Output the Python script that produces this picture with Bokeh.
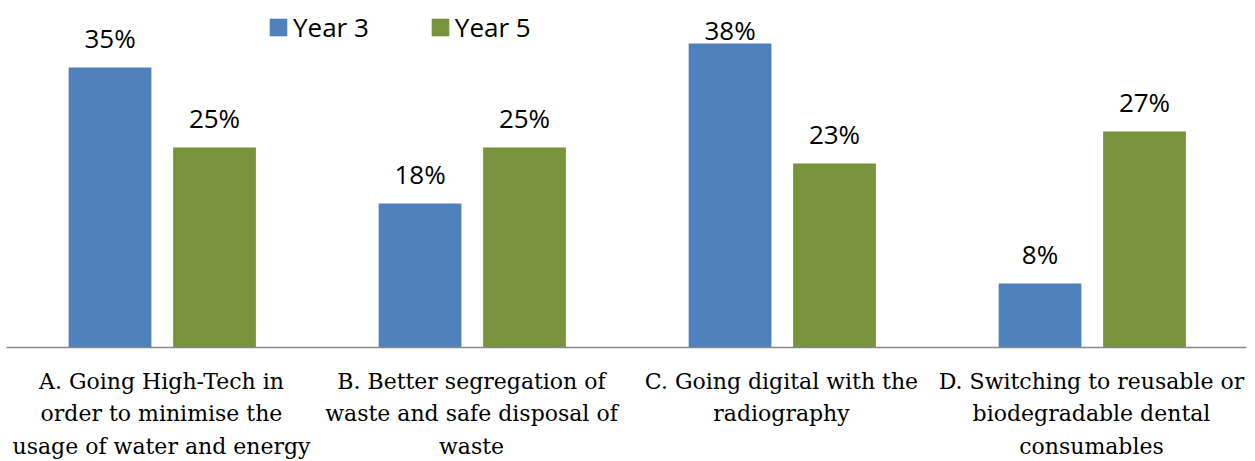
from bokeh.plotting import figure
from bokeh.models import FactorRange, ColumnDataSource, LabelSet, Legend, LegendItem
from bokeh.transform import dodge
from bokeh.core.properties import value
from bokeh.embed import file_html
from bokeh.resources import INLINE

categories = [
    "A. Going High-Tech in\norder to minimise the\nusage of water and energy",
    "B. Better segregation of\nwaste and safe disposal of\nwaste",
    "C. Going digital with the\nradiography",
    "D. Switching to reusable or\nbiodegradable dental\nconsumables",
]
year3 = [35, 18, 38, 8]
year5 = [25, 25, 23, 27]
series_names = ["Year 3", "Year 5"]

y_max = 42.36


def label_offsets(vals):
    # labels near the top of the frame sit closer to their bar
    return [3 if v > 36 else 19 for v in vals]


src = ColumnDataSource(dict(
    cat=categories,
    y3=year3,
    y5=year5,
    l3=[f"{v}%" for v in year3],
    l5=[f"{v}%" for v in year5],
    o3=label_offsets(year3),
    o5=label_offsets(year5),
))

p = figure(x_range=FactorRange(*categories), y_range=(0, y_max),
           width=1248, height=461, output_backend="svg", toolbar_location=None,
           min_border_left=6, min_border_right=2, min_border_top=8, min_border_bottom=0)
p.outline_line_color = None
p.grid.grid_line_color = None
p.yaxis.visible = False

blue = "#4F81BD"
green = "#77933C"
r3 = p.vbar(x=dodge("cat", -0.166, range=p.x_range), top="y3", width=0.267,
            source=src, fill_color=blue, line_color=None)
r5 = p.vbar(x=dodge("cat", 0.171, range=p.x_range), top="y5", width=0.267,
            source=src, fill_color=green, line_color=None)

for col, off, ycol, ocol in (("l3", -0.166, "y3", "o3"), ("l5", 0.171, "y5", "o5")):
    p.add_layout(LabelSet(x=dodge("cat", off, range=p.x_range), y=ycol, text=col,
                          source=src, text_align="center", text_baseline="alphabetic",
                          y_offset=ocol, text_font=value("Open Sans"),
                          text_font_size=value("26px"), text_color=value("#000000")))

xa = p.xaxis[0]
xa.major_label_text_font = "DejaVu Serif"
xa.major_label_text_font_size = "22px"
xa.major_label_text_color = "#000000"
xa.major_label_text_line_height = 1.3
xa.major_tick_line_color = None
xa.minor_tick_line_color = None
xa.axis_line_color = "#888888"
xa.axis_line_width = 1.5
xa.major_label_standoff = 15

legend = Legend(items=[LegendItem(label=series_names[0], renderers=[r3]),
                       LegendItem(label=series_names[1], renderers=[r5])],
                orientation="horizontal", location=(261, 302),
                label_text_font="Open Sans", label_text_font_size="26px",
                label_text_color="#000000",
                glyph_width=22, glyph_height=22, label_standoff=4, spacing=60,
                padding=0, margin=0, border_line_color=None, background_fill_alpha=0)
p.add_layout(legend)

open("out.html", "w").write(file_html(p, INLINE))
